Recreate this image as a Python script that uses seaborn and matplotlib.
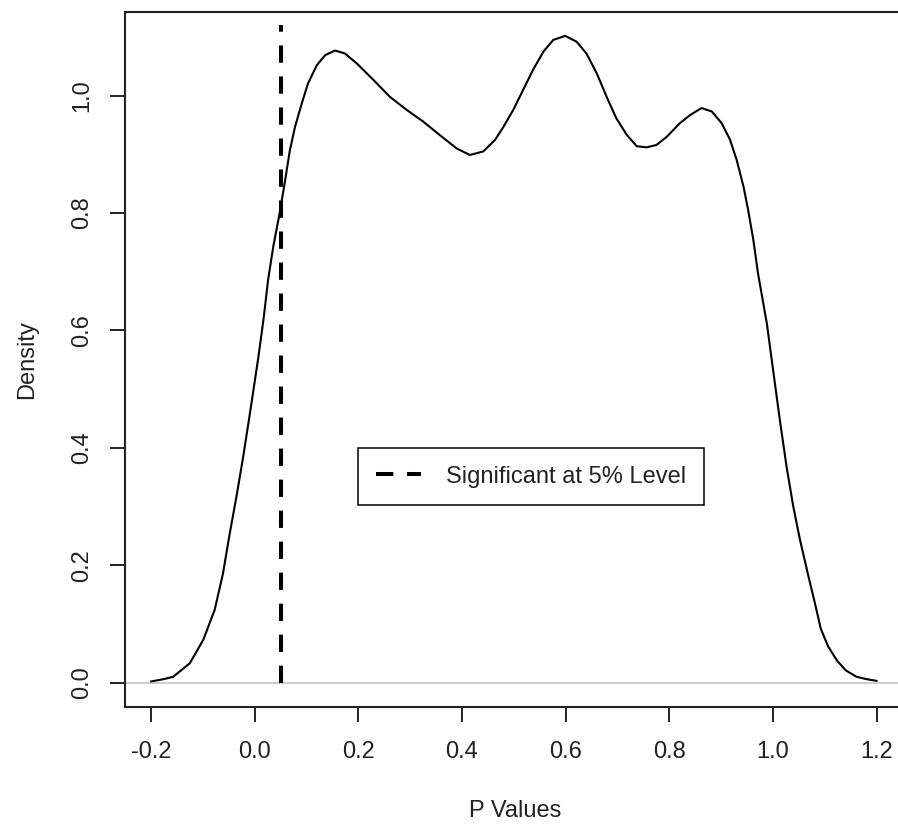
import matplotlib
matplotlib.use("Agg")
import matplotlib.pyplot as plt
import seaborn as sns
import pandas as pd

# Kernel density estimate of the simulated p-values (x grid and density height)
p_grid = [-0.200, -0.175, -0.157, -0.125, -0.099, -0.077, -0.061, -0.048, -0.035,
          -0.022, -0.009, 0.007, 0.017, 0.026, 0.036, 0.047, 0.058, 0.068, 0.078,
          0.091, 0.103, 0.120, 0.136, 0.155, 0.174, 0.197, 0.229, 0.261, 0.293,
          0.325, 0.357, 0.390, 0.415, 0.441, 0.464, 0.480, 0.499, 0.518, 0.537,
          0.557, 0.576, 0.599, 0.621, 0.640, 0.660, 0.679, 0.698, 0.718, 0.737,
          0.756, 0.775, 0.795, 0.820, 0.840, 0.862, 0.882, 0.901, 0.917, 0.930,
          0.943, 0.952, 0.962, 0.971, 0.988, 1.000, 1.013, 1.026, 1.039, 1.052,
          1.068, 1.080, 1.092, 1.106, 1.123, 1.140, 1.161, 1.180, 1.200]
density = [0.002, 0.006, 0.010, 0.033, 0.073, 0.124, 0.186, 0.254, 0.317,
           0.385, 0.459, 0.553, 0.618, 0.686, 0.743, 0.794, 0.851, 0.907, 0.947,
           0.987, 1.021, 1.052, 1.069, 1.077, 1.072, 1.055, 1.027, 0.998, 0.976,
           0.956, 0.933, 0.910, 0.899, 0.905, 0.925, 0.947, 0.976, 1.010, 1.044,
           1.075, 1.095, 1.102, 1.092, 1.072, 1.038, 0.998, 0.961, 0.933, 0.914,
           0.912, 0.916, 0.930, 0.953, 0.967, 0.979, 0.973, 0.953, 0.925, 0.890,
           0.845, 0.805, 0.754, 0.697, 0.612, 0.533, 0.448, 0.368, 0.300, 0.243,
           0.182, 0.138, 0.092, 0.062, 0.038, 0.021, 0.010, 0.006, 0.003]

# Significance threshold marker
sig_level = 0.05
sig_line_top = 1.12
legend_label = "Significant at 5% Level"

x_ticks = [-0.2, 0.0, 0.2, 0.4, 0.6, 0.8, 1.0, 1.2]
x_tick_labels = ["-0.2", "0.0", "0.2", "0.4", "0.6", "0.8", "1.0", "1.2"]
y_ticks = [0.0, 0.2, 0.4, 0.6, 0.8, 1.0]
y_tick_labels = ["0.0", "0.2", "0.4", "0.6", "0.8", "1.0"]

sns.set_theme(style="ticks")
plt.rcParams["font.family"] = ["Liberation Sans", "DejaVu Sans"]
plt.rcParams["axes.unicode_minus"] = False

FS = 17
W, H = 898, 825
fig = plt.figure(figsize=(W / 100, H / 100), dpi=100)
fig.patch.set_facecolor("white")
left, right, top, bottom = 125, 906, 12, 706.7
ax = fig.add_axes([left / W, (H - bottom) / H, (right - left) / W, (bottom - top) / H])
ax.set_facecolor("white")

df = pd.DataFrame({"p": p_grid, "density": density})

# zero reference line
ax.axhline(0, color="#BEBEBE", lw=1.1, zorder=1)

sns.lineplot(data=df, x="p", y="density", color="black", lw=1.5,
             estimator=None, sort=False, ax=ax, zorder=3)

ax.vlines(sig_level, 0, sig_line_top, colors="black", lw=2.9,
          linestyles=[(0, (4.3, 3.4))], label=legend_label, zorder=4)

ax.set_xlim(-0.25, 1.2564)
ax.set_ylim(-0.041, 1.1426)

ax.set_xticks(x_ticks)
ax.set_xticklabels(x_tick_labels)
ax.set_yticks(y_ticks)
ax.set_yticklabels(y_tick_labels, rotation=90, va="center")

ax.tick_params(axis="both", direction="out", length=11, width=1.4,
               color="#222222", labelsize=FS, labelcolor="#222222")
ax.tick_params(axis="x", pad=14)
ax.tick_params(axis="y", pad=12)

for side in ["left", "bottom", "top", "right"]:
    ax.spines[side].set_visible(True)
    ax.spines[side].set_linewidth(1.5)
    ax.spines[side].set_color("#222222")

ax.set_xlabel("P Values", fontsize=FS, color="#222222", labelpad=26)
ax.set_ylabel("Density", fontsize=FS, color="#222222", labelpad=24)

leg = ax.legend(loc="upper left", bbox_to_anchor=(0.2, 0.4),
                bbox_transform=ax.transData, borderaxespad=0,
                fontsize=FS, frameon=True, fancybox=False,
                handlelength=1.9, handletextpad=1.07, borderpad=0.75)
frame = leg.get_frame()
frame.set_edgecolor("black")
frame.set_linewidth(1.1)
frame.set_alpha(1)
for t in leg.get_texts():
    t.set_color("#222222")

fig.savefig("out.png", dpi=100, facecolor="white")
